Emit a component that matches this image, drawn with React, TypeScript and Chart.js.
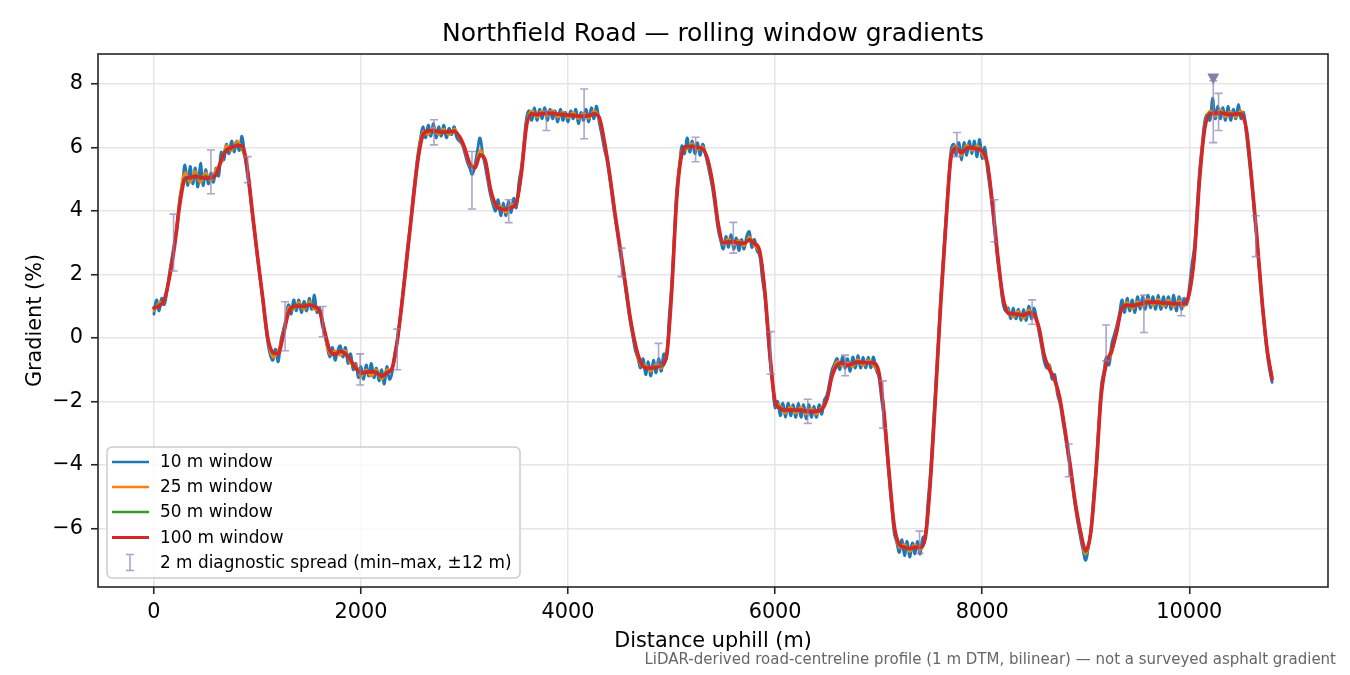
import { useEffect, useRef } from "react";
import Chart from "chart.js/auto";

const FONT = '"DejaVu Sans", sans-serif';

// sample spacing (m) of the plotted series
const STEP_10M = 25;
const STEP = 50;

// 10 m window, sampled every 25 m
const WINDOW_10M = [
  0.75, 1.2, 0.85, 1.25, 1.05, 1.45, 2.05, 2.55, 3.05, 3.45, 4.4, 4.85,
  5.45, 4.8, 5.4, 4.85, 5.35, 4.75, 5.5, 4.8, 5.3, 4.85, 5.2, 4.9,
  5.35, 5.1, 5.85, 5.6, 6.1, 5.8, 6.2, 5.85, 6.2, 5.9, 6.35, 5.8,
  5.2, 4.6, 3.85, 3.2, 2.5, 1.85, 1.2, 0.5, -0.15, -0.55, -0.7, -0.35,
  -0.75, -0.1, 0.25, 0.6, 1.05, 0.75, 1.2, 0.85, 1.2, 0.8, 1.15, 0.85,
  1.25, 0.9, 1.35, 0.8, 0.95, 0.4, 0.1, -0.3, -0.6, -0.3, -0.7, -0.4,
  -0.25, -0.6, -0.3, -0.8, -0.5, -1.0, -0.8, -1.25, -0.9, -1.3, -0.85, -1.2,
  -0.8, -1.25, -0.95, -1.35, -1.0, -1.45, -0.9, -1.3, -1.1, -0.5, -0.1, 0.6,
  1.35, 2.1, 2.9, 3.55, 4.4, 5.1, 5.8, 6.3, 6.65, 6.3, 6.7, 6.35,
  6.75, 6.3, 6.65, 6.35, 6.7, 6.3, 6.6, 6.4, 6.65, 6.3, 6.2, 6.1,
  5.85, 5.55, 5.35, 5.15, 5.45, 5.9, 6.3, 5.8, 5.4, 4.95, 4.5, 4.2,
  4.0, 4.35, 3.85, 4.25, 3.85, 4.3, 3.95, 4.4, 4.1, 4.9, 5.4, 6.2,
  6.95, 7.15, 6.85, 7.25, 6.85, 7.2, 6.9, 7.25, 6.85, 7.2, 6.9, 7.15,
  6.8, 7.2, 6.85, 7.1, 6.8, 7.15, 6.9, 7.2, 6.75, 7.1, 6.85, 7.2,
  6.8, 7.25, 6.9, 7.3, 6.8, 6.4, 5.95, 5.6, 5.05, 4.45, 3.85, 3.3,
  2.75, 2.2, 1.65, 1.05, 0.5, 0.05, -0.4, -0.65, -0.95, -0.65, -1.15, -0.75,
  -1.2, -0.7, -1.1, -0.65, -1.05, -0.5, -0.65, 0.6, 1.7, 3.2, 4.7, 5.4,
  6.05, 5.8, 6.3, 5.85, 6.2, 5.8, 6.15, 5.75, 6.1, 5.8, 5.45, 5.05,
  4.6, 4.0, 3.4, 3.05, 2.8, 3.2, 2.85, 3.25, 2.8, 3.15, 2.75, 3.1,
  2.8, 3.2, 3.35, 2.85, 3.1, 2.75, 2.6, 1.9, 1.3, 0.3, -0.7, -1.45,
  -2.2, -2.0, -2.45, -2.05, -2.5, -2.05, -2.45, -2.1, -2.5, -2.05, -2.5, -2.1,
  -2.55, -2.1, -2.5, -2.15, -2.5, -2.1, -2.4, -1.95, -1.8, -1.4, -1.0, -0.8,
  -0.65, -1.0, -0.6, -0.95, -0.65, -1.05, -0.6, -0.95, -0.55, -0.95, -0.6, -0.95,
  -0.6, -0.95, -0.6, -1.0, -1.2, -1.85, -2.5, -3.45, -4.4, -5.3, -6.15, -6.45,
  -6.75, -6.35, -6.85, -6.4, -6.9, -6.45, -6.8, -6.4, -6.8, -6.3, -6.2, -5.2,
  -4.2, -2.9, -1.5, -0.1, 1.35, 2.6, 3.85, 4.9, 5.95, 6.1, 5.75, 6.15,
  5.6, 6.15, 5.75, 6.2, 5.8, 6.2, 5.7, 6.25, 5.65, 6.0, 5.3, 4.7,
  4.0, 3.2, 2.4, 1.75, 1.1, 0.85, 0.95, 0.6, 0.95, 0.6, 0.9, 0.55,
  0.9, 0.55, 1.0, 0.6, 0.95, 0.6, 0.15, -0.3, -0.75, -0.95, -0.85, -1.3,
  -1.15, -1.75, -2.05, -2.55, -3.05, -3.6, -4.15, -4.75, -5.35, -5.85, -6.3, -6.7,
  -7.0, -6.6, -6.0, -5.0, -4.0, -2.7, -1.5, -1.05, -0.6, -0.85, -0.2, 0.1,
  0.4, 0.75, 1.2, 0.8, 1.25, 0.85, 1.2, 0.8, 1.3, 0.9, 1.3, 0.9,
  1.35, 0.95, 1.3, 0.9, 1.35, 0.9, 1.3, 0.95, 1.3, 0.9, 1.35, 0.85,
  1.3, 0.9, 1.25, 1.05, 1.6, 2.3, 2.9, 4.1, 5.3, 6.1, 6.85, 7.05,
  6.85, 7.55, 6.9, 7.3, 6.9, 7.25, 6.85, 7.3, 6.85, 7.2, 6.9, 7.35,
  6.9, 7.1, 6.45, 5.7, 4.95, 4.05, 3.15, 2.15, 1.15, 0.35, -0.45, -1.0,
  -1.4,
];

// 25 m window, sampled every 50 m
const WINDOW_25M = [
  0.85, 1.1, 1.15, 2.0, 3.0, 4.4, 5.2, 4.9, 5.25, 4.9,
  5.2, 4.95, 5.3, 5.5, 6.05, 5.9, 6.2, 5.95, 5.35, 3.95,
  2.55, 1.25, -0.05, -0.6, -0.4, 0.15, 0.95, 0.9, 1.12, 0.9,
  1.15, 0.9, 0.9, 0.15, -0.5, -0.4, -0.55, -0.4, -0.8, -0.85,
  -1.2, -1.0, -1.2, -1.0, -1.3, -1.0, -1.0, -0.1, 1.25, 2.75,
  4.3, 5.7, 6.5, 6.4, 6.62, 6.4, 6.58, 6.4, 6.58, 6.3,
  5.95, 5.45, 5.4, 5.9, 5.55, 4.65, 4.15, 4.15, 3.95, 4.2,
  4.2, 5.3, 6.8, 7.15, 6.95, 7.15, 6.98, 7.16, 6.95, 7.12,
  6.93, 7.1, 6.9, 7.08, 6.92, 7.15, 6.9, 6.1, 5.15, 3.95,
  2.85, 1.75, 0.6, -0.25, -0.85, -0.85, -1.05, -0.82, -0.95, -0.5,
  1.5, 4.5, 5.9, 5.95, 6.12, 5.92, 6.02, 5.55, 4.75, 3.55,
  2.95, 3.12, 2.93, 3.08, 2.9, 3.18, 2.92, 2.7, 1.45, -0.55,
  -2.05, -2.12, -2.37, -2.17, -2.37, -2.18, -2.4, -2.22, -2.4, -2.17,
  -1.95, -1.15, -0.75, -0.88, -0.78, -0.9, -0.68, -0.87, -0.7, -0.88,
  -1.1, -2.35, -4.25, -5.95, -6.6, -6.5, -6.72, -6.5, -6.68, -6.25,
  -4.4, -1.7, 1.2, 3.7, 5.8, 6.05, 5.75, 6.07, 5.9, 6.05,
  5.8, 5.45, 4.15, 2.55, 1.25, 0.88, 0.66, 0.84, 0.62, 0.88,
  0.68, 0.25, -0.6, -0.9, -1.38, -1.95, -2.95, -4.05, -5.25, -6.15,
  -6.8, -6.05, -4.1, -1.7, -0.75, -0.5, 0.3, 0.9, 1.12, 0.92,
  1.15, 0.99, 1.22, 1.03, 1.22, 1.0, 1.19, 0.98, 1.17, 1.0,
  1.45, 2.7, 5.1, 6.7, 7.15, 6.98, 7.18, 6.96, 7.13, 6.95,
  7.15, 6.55, 5.05, 3.25, 1.25, -0.35, -1.2,
];

// 50 m window, sampled every 50 m
const WINDOW_50M = [
  0.9, 1.05, 1.15, 1.95, 2.95, 4.3, 5.05, 5.0, 5.14, 5.0,
  5.1, 5.0, 5.2, 5.6, 5.95, 5.95, 6.1, 6.0, 5.4, 4.0,
  2.6, 1.3, 0.0, -0.5, -0.45, 0.1, 0.85, 0.95, 1.06, 0.95,
  1.08, 0.96, 0.88, 0.2, -0.42, -0.48, -0.45, -0.46, -0.72, -0.92,
  -1.14, -1.04, -1.1, -1.05, -1.24, -1.06, -0.97, -0.1, 1.2, 2.7,
  4.2, 5.6, 6.43, 6.48, 6.56, 6.46, 6.52, 6.46, 6.54, 6.33,
  6.0, 5.5, 5.38, 5.8, 5.58, 4.7, 4.2, 4.1, 4.02, 4.14,
  4.23, 5.2, 6.72, 7.09, 7.0, 7.1, 7.04, 7.1, 7.01, 7.07,
  6.98, 7.04, 6.95, 7.02, 6.97, 7.09, 6.93, 6.2, 5.2, 4.0,
  2.9, 1.8, 0.65, -0.2, -0.8, -0.9, -0.98, -0.88, -0.9, -0.58,
  1.4, 4.4, 5.83, 6.0, 6.07, 5.97, 5.98, 5.6, 4.8, 3.6,
  2.98, 3.07, 2.99, 3.03, 2.95, 3.12, 2.96, 2.74, 1.5, -0.5,
  -2.0, -2.18, -2.31, -2.23, -2.31, -2.24, -2.34, -2.28, -2.34, -2.22,
  -1.93, -1.2, -0.82, -0.82, -0.84, -0.84, -0.73, -0.8, -0.75, -0.82,
  -1.05, -2.3, -4.2, -5.9, -6.54, -6.56, -6.66, -6.56, -6.62, -6.3,
  -4.5, -1.8, 1.1, 3.6, 5.72, 6.0, 5.8, 6.01, 5.96, 5.99,
  5.86, 5.5, 4.2, 2.6, 1.3, 0.82, 0.72, 0.78, 0.68, 0.82,
  0.72, 0.3, -0.55, -0.96, -1.33, -1.9, -2.9, -4.0, -5.2, -6.1,
  -6.74, -6.1, -4.2, -1.8, -0.78, -0.44, 0.22, 0.95, 1.06, 0.98,
  1.09, 1.05, 1.16, 1.09, 1.16, 1.06, 1.13, 1.04, 1.11, 1.05,
  1.4, 2.6, 5.0, 6.62, 7.1, 7.04, 7.12, 7.02, 7.07, 7.01,
  7.09, 6.6, 5.1, 3.3, 1.3, -0.3, -1.25,
];

// 100 m window, sampled every 50 m
const WINDOW_100M = [
  0.95, 1.0, 1.2, 1.9, 2.9, 4.2, 5.0, 5.06, 5.08, 5.06,
  5.03, 5.05, 5.13, 5.6, 5.9, 6.0, 6.05, 6.05, 5.4, 4.0,
  2.6, 1.3, 0.0, -0.45, -0.5, 0.1, 0.8, 1.0, 1.0, 1.0,
  1.03, 1.0, 0.85, 0.2, -0.4, -0.52, -0.42, -0.5, -0.7, -0.95,
  -1.1, -1.08, -1.06, -1.1, -1.2, -1.1, -0.95, -0.1, 1.2, 2.7,
  4.2, 5.6, 6.4, 6.52, 6.52, 6.5, 6.47, 6.5, 6.5, 6.35,
  6.0, 5.5, 5.35, 5.75, 5.6, 4.7, 4.2, 4.06, 4.05, 4.1,
  4.25, 5.2, 6.7, 7.05, 7.04, 7.06, 7.08, 7.07, 7.05, 7.03,
  7.02, 7.0, 6.99, 6.98, 7.0, 7.05, 6.95, 6.2, 5.2, 4.0,
  2.9, 1.8, 0.65, -0.2, -0.75, -0.95, -0.94, -0.92, -0.85, -0.6,
  1.4, 4.4, 5.8, 6.03, 6.02, 6.0, 5.95, 5.6, 4.8, 3.6,
  3.0, 3.02, 3.03, 2.98, 2.98, 3.08, 2.98, 2.75, 1.5, -0.5,
  -2.0, -2.22, -2.27, -2.27, -2.27, -2.28, -2.3, -2.32, -2.3, -2.25,
  -1.93, -1.2, -0.85, -0.78, -0.87, -0.8, -0.76, -0.77, -0.78, -0.78,
  -1.05, -2.3, -4.2, -5.9, -6.5, -6.6, -6.62, -6.6, -6.58, -6.3,
  -4.5, -1.8, 1.1, 3.6, 5.7, 5.97, 5.84, 5.97, 6.0, 5.95,
  5.9, 5.5, 4.2, 2.6, 1.3, 0.78, 0.76, 0.74, 0.72, 0.78,
  0.75, 0.3, -0.55, -1.0, -1.3, -1.9, -2.9, -4.0, -5.2, -6.1,
  -6.68, -6.1, -4.2, -1.8, -0.8, -0.4, 0.2, 0.95, 1.02, 1.02,
  1.05, 1.09, 1.12, 1.13, 1.12, 1.1, 1.09, 1.08, 1.07, 1.08,
  1.4, 2.6, 5.0, 6.6, 7.05, 7.08, 7.08, 7.06, 7.03, 7.05,
  7.05, 6.6, 5.1, 3.3, 1.3, -0.3, -1.3,
];

// 2 m diagnostic spread: min-max within +-12 m of each check point
const SPREAD_X = [
  190, 551, 906, 1267, 1631, 1992, 2350, 2705, 3072, 3427, 3791, 4155, 4516, 4874, 5232, 5596,
  5957, 6315, 6676, 7041, 7395, 7756, 8120, 8482, 8836, 9197, 9562, 9923, 10232, 10283, 10642,
];
const SPREAD_HI = [
  3.9, 5.92, 5.71, 1.14, 0.99, -0.5, 0.28, 6.87, 5.87, 4.35, 7.15, 7.84, 2.83, -0.17, 6.32, 3.64,
  0.2, -1.93, -0.54, -1.35, -6.08, 6.47, 4.35, 1.2, -3.34, 0.41, 1.35, 1.25, 8.1, 7.7, 3.85,
];
const SPREAD_LO = [
  2.11, 4.54, 4.89, -0.4, 0.04, -1.48, -1.0, 6.08, 4.06, 3.63, 6.53, 6.27, 1.93, -0.85, 5.55, 2.67,
  -1.14, -2.69, -1.19, -2.84, -6.78, 5.71, 3.03, 0.43, -4.37, -0.72, 0.17, 0.7, 6.15, 6.53, 2.56,
];

// steepest 2 m reading
const PEAK_X = 10232;
const PEAK_Y = 8.17;

const X_TICKS = [0, 2000, 4000, 6000, 8000, 10000];
const Y_TICKS = [-6, -4, -2, 0, 2, 4, 6, 8];

const SERIES_LABELS = ["10 m window", "25 m window", "50 m window", "100 m window"];
const SERIES_COLORS = ["#1f77b4", "#ff7f0e", "#2ca02c", "#d62728"];
const SPREAD_LABEL = "2 m diagnostic spread (min\u2013max, \u00b112 m)";
const SPREAD_COLOR = "rgba(140, 125, 180, 0.7)";
const PEAK_COLOR = "#8a7eae";

const TITLE = "Northfield Road \u2014 rolling window gradients";
const X_LABEL = "Distance uphill (m)";
const Y_LABEL = "Gradient (%)";
const NOTE = "LiDAR-derived road-centreline profile (1 m DTM, bilinear) \u2014 not a surveyed asphalt gradient";

const toPoints = (values: number[], step: number) => values.map((y, i) => ({ x: i * step, y }));

const overlay = {
  id: "overlay",
  afterDatasetsDraw(chart: any) {
    const { ctx } = chart;
    const xs = chart.scales.x;
    const ys = chart.scales.y;
    const area = chart.chartArea;
    ctx.save();
    ctx.beginPath();
    ctx.rect(area.left, area.top, area.right - area.left, area.bottom - area.top);
    ctx.clip();
    ctx.strokeStyle = SPREAD_COLOR;
    ctx.lineWidth = 1.6;
    SPREAD_X.forEach((d, i) => {
      const px = xs.getPixelForValue(d);
      const hi = ys.getPixelForValue(SPREAD_HI[i]);
      const lo = ys.getPixelForValue(SPREAD_LO[i]);
      ctx.beginPath();
      ctx.moveTo(px, hi);
      ctx.lineTo(px, lo);
      ctx.moveTo(px - 4, hi);
      ctx.lineTo(px + 4, hi);
      ctx.moveTo(px - 4, lo);
      ctx.lineTo(px + 4, lo);
      ctx.stroke();
    });
    // downward triangle for the peak
    const tx = xs.getPixelForValue(PEAK_X);
    const ty = ys.getPixelForValue(PEAK_Y);
    ctx.fillStyle = PEAK_COLOR;
    ctx.beginPath();
    ctx.moveTo(tx - 6, ty - 5);
    ctx.lineTo(tx + 6, ty - 5);
    ctx.lineTo(tx, ty + 6);
    ctx.closePath();
    ctx.fill();
    ctx.restore();
  },
  afterDraw(chart: any) {
    const { ctx } = chart;
    const area = chart.chartArea;
    ctx.save();

    // axes frame
    ctx.strokeStyle = "#262626";
    ctx.lineWidth = 1.6;
    ctx.strokeRect(area.left, area.top, area.right - area.left, area.bottom - area.top);

    const midX = (area.left + area.right) / 2;
    ctx.fillStyle = "#000";
    ctx.textBaseline = "alphabetic";
    ctx.textAlign = "center";
    ctx.font = `25px ${FONT}`;
    ctx.fillText(TITLE, midX, 41);

    ctx.font = `20.8px ${FONT}`;
    ctx.fillText(X_LABEL, midX, 647);

    ctx.save();
    ctx.translate(41, (area.top + area.bottom) / 2);
    ctx.rotate(-Math.PI / 2);
    ctx.fillText(Y_LABEL, 0, 0);
    ctx.restore();

    ctx.textAlign = "right";
    ctx.fillStyle = "#666666";
    ctx.font = `15px ${FONT}`;
    ctx.fillText(NOTE, 1336, 664);

    // legend box
    const lx = area.left + 9;
    const lb = area.bottom - 9;
    const lw = 413;
    const lh = 131;
    const ly = lb - lh;
    ctx.beginPath();
    ctx.roundRect(lx, ly, lw, lh, 5);
    ctx.fillStyle = "rgba(255,255,255,0.8)";
    ctx.fill();
    ctx.strokeStyle = "#cccccc";
    ctx.lineWidth = 1.5;
    ctx.stroke();

    ctx.font = `16.9px ${FONT}`;
    ctx.textAlign = "left";
    ctx.textBaseline = "middle";
    const rows = [15, 40, 65, 90.5, 115.5];
    SERIES_LABELS.forEach((label, i) => {
      const ry = ly + rows[i];
      ctx.strokeStyle = SERIES_COLORS[i];
      ctx.lineWidth = i === 3 ? 3.2 : 2.6;
      ctx.beginPath();
      ctx.moveTo(lx + 5, ry);
      ctx.lineTo(lx + 42, ry);
      ctx.stroke();
      ctx.fillStyle = "#000";
      ctx.fillText(label, lx + 53, ry + 1);
    });
    const ey = ly + rows[4];
    const ex = lx + 23;
    ctx.strokeStyle = SPREAD_COLOR;
    ctx.lineWidth = 1.6;
    ctx.beginPath();
    ctx.moveTo(ex, ey - 8);
    ctx.lineTo(ex, ey + 8);
    ctx.moveTo(ex - 4, ey - 8);
    ctx.lineTo(ex + 4, ey - 8);
    ctx.moveTo(ex - 4, ey + 8);
    ctx.lineTo(ex + 4, ey + 8);
    ctx.stroke();
    ctx.fillStyle = "#000";
    ctx.fillText(SPREAD_LABEL, lx + 53, ey + 1);

    ctx.restore();
  },
};

const GradientChart = () => {
  const canvasRef = useRef<HTMLCanvasElement | null>(null);

  useEffect(() => {
    let chart: Chart | null = null;
    if (canvasRef.current) {
      const ctx = canvasRef.current.getContext("2d");
      if (ctx) {
        const series = [
          toPoints(WINDOW_10M, STEP_10M),
          toPoints(WINDOW_25M, STEP),
          toPoints(WINDOW_50M, STEP),
          toPoints(WINDOW_100M, STEP),
        ];
        const widths = [2.8, 2.6, 2.6, 3.6];
        chart = new Chart(ctx, {
          type: "line",
          data: {
            datasets: series.map((data, i) => ({
              label: SERIES_LABELS[i],
              data,
              borderColor: SERIES_COLORS[i],
              borderWidth: widths[i],
              pointRadius: 0,
              tension: i < 2 ? 0.45 : 0.3,
              cubicInterpolationMode: i < 2 ? "default" : "monotone",
              borderJoinStyle: "round",
              borderCapStyle: "round",
              fill: false,
              order: 4 - i,
            })),
          },
          options: {
            animation: false,
            responsive: true,
            maintainAspectRatio: false,
            devicePixelRatio: 1,
            events: [],
            parsing: false,
            layout: { padding: { top: 54, right: 22, left: 0, bottom: 0 } },
            plugins: {
              legend: { display: false },
              tooltip: { enabled: false },
              title: { display: false },
            },
            scales: {
              x: {
                type: "linear",
                min: -540,
                max: 11340,
                afterBuildTicks: (scale: any) => {
                  scale.ticks = X_TICKS.map((value) => ({ value }));
                },
                afterFit: (scale: any) => {
                  scale.height = 88;
                },
                border: { display: false },
                grid: {
                  color: "#e6e6e6",
                  lineWidth: 1.5,
                  tickColor: "#262626",
                  tickWidth: 1.6,
                  tickLength: 7,
                },
                ticks: {
                  color: "#000",
                  padding: 6,
                  maxRotation: 0,
                  font: { family: FONT, size: 20.8 },
                  callback: (v: any) => String(v),
                },
              },
              y: {
                type: "linear",
                min: -7.84,
                max: 8.94,
                afterBuildTicks: (scale: any) => {
                  scale.ticks = Y_TICKS.map((value) => ({ value }));
                },
                afterFit: (scale: any) => {
                  scale.width = 98;
                },
                border: { display: false },
                grid: {
                  color: "#e6e6e6",
                  lineWidth: 1.5,
                  tickColor: "#262626",
                  tickWidth: 1.6,
                  tickLength: 7,
                },
                ticks: {
                  color: "#000",
                  padding: 8,
                  font: { family: FONT, size: 20.8 },
                  callback: (v: any) => (v < 0 ? "\u2212" + Math.abs(v) : String(v)),
                },
              },
            },
          },
          plugins: [overlay],
        });
      }
    }
    return () => {
      chart?.destroy();
    };
  }, []);

  return (
    <div style={{ position: "absolute", left: 0, top: 0, width: 1350, height: 675, background: "#fff" }}>
      <canvas ref={canvasRef} />
    </div>
  );
};

export default function App() {
  return <GradientChart />;
}
